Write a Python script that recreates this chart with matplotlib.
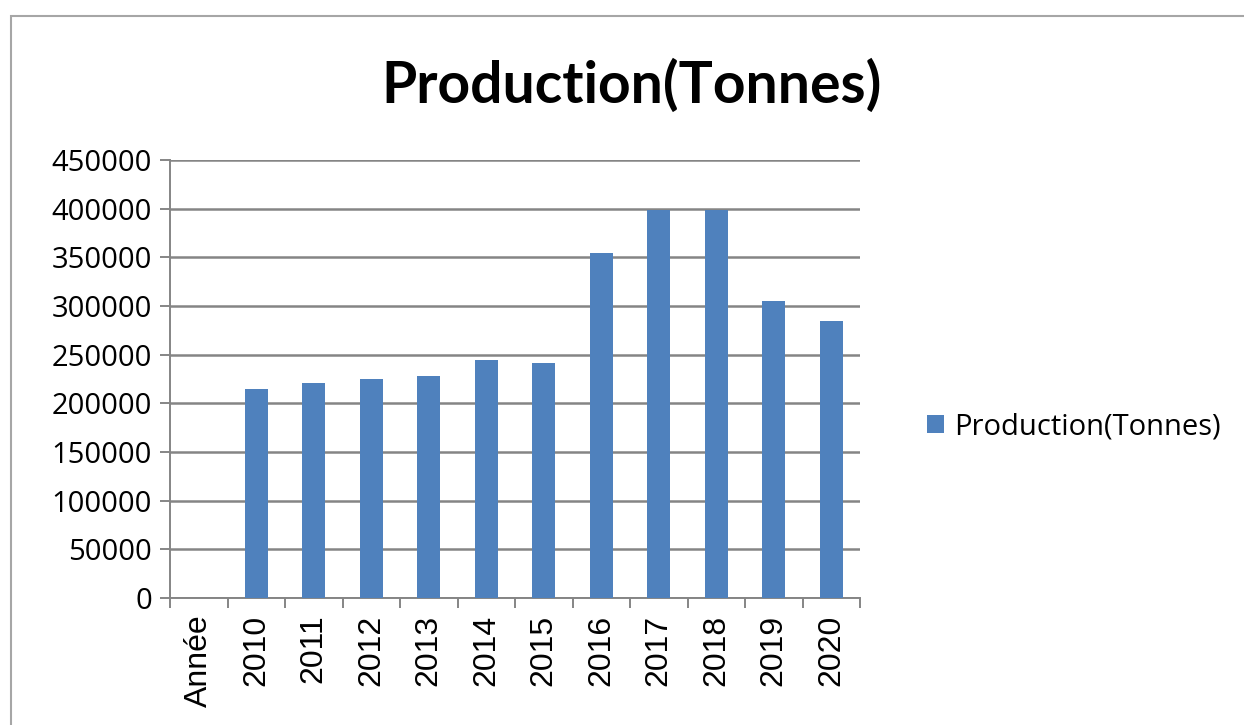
import matplotlib
matplotlib.use("Agg")
import matplotlib.pyplot as plt
from matplotlib.patches import Rectangle
import numpy as np

categories = ["Année", "2010", "2011", "2012", "2013", "2014", "2015",
              "2016", "2017", "2018", "2019", "2020"]
production = [0, 215000, 221000, 225000, 228000, 245000, 241000,
              354000, 399000, 399000, 305000, 285000]
y_ticks = [0, 50000, 100000, 150000, 200000, 250000, 300000, 350000, 400000, 450000]
series_name = "Production(Tonnes)"

bar_color = "#4F81BD"
grid_color = "#858585"

fig = plt.figure(figsize=(12.44, 7.25), dpi=100)
ax = fig.add_axes([170 / 1244, 1 - 598 / 725, 690 / 1244, 438 / 725])

x = np.arange(len(categories))
ax.bar(x, production, width=0.4, color=bar_color, label=series_name, zorder=3)

ax.set_xlim(-0.5, len(categories) - 0.5)
ax.set_ylim(0, 450000)
ax.set_yticks(y_ticks)
ax.set_yticklabels([str(v) for v in y_ticks], fontfamily="Open Sans", fontsize=21)
ax.yaxis.grid(True, color=grid_color, linewidth=1.8, zorder=0)

# labels at category centres, tick marks at boundaries
ax.set_xticks(x)
ax.set_xticklabels(categories, rotation=90, fontfamily="Liberation Sans", fontsize=23)
ax.set_xticks(np.arange(len(categories) + 1) - 0.5, minor=True)
ax.tick_params(axis="x", which="major", length=0, pad=12)
ax.tick_params(axis="x", which="minor", length=7, width=1.4, color=grid_color)
ax.tick_params(axis="y", length=7, width=1.4, color=grid_color, pad=6)

for s in ["top", "right"]:
    ax.spines[s].set_visible(False)
for s in ["left", "bottom"]:
    ax.spines[s].set_color(grid_color)
    ax.spines[s].set_linewidth(1.4)

fig.text(0.508, 1 - 86 / 725, "Production(Tonnes)", ha="center", va="center",
         fontsize=41, fontweight="bold", fontfamily="Lato")

ax.legend(loc="center left", bbox_to_anchor=(912 / 1244, 1 - 427 / 725),
          bbox_transform=fig.transFigure, frameon=False, borderpad=0,
          handlelength=0.6, handleheight=0.6, handletextpad=0.35,
          prop={"family": "Open Sans", "size": 21})

# outer chart frame
fig.patches.append(Rectangle((11 / 1244, -0.1), 2, 1.1 - 16 / 725,
                             transform=fig.transFigure, fill=False,
                             edgecolor="#A6A6A6", linewidth=1.5))

fig.savefig("out.png", dpi=100)
